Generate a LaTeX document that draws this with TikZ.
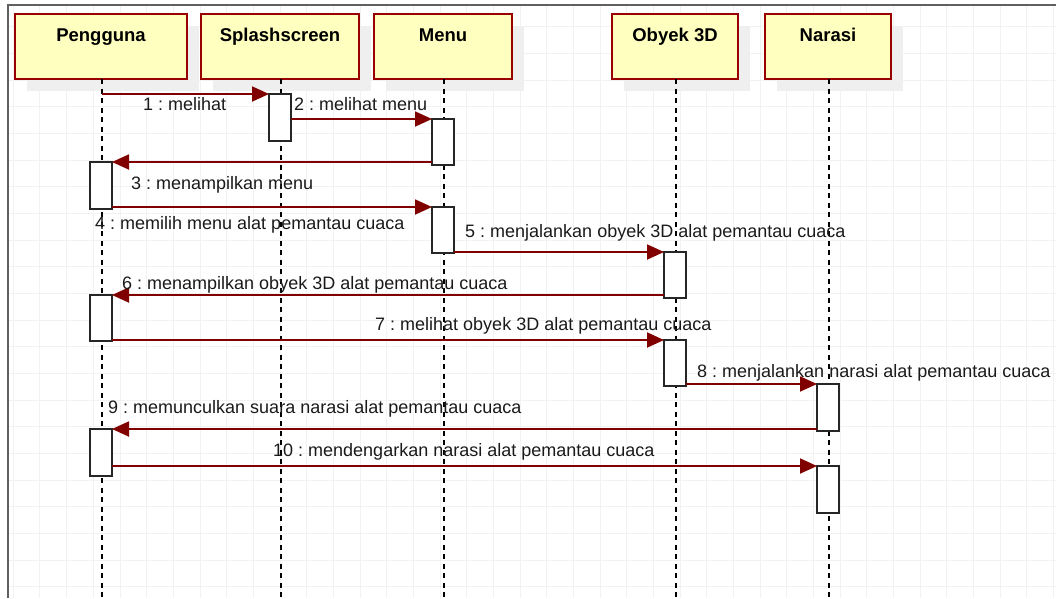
\documentclass[tikz,border=0pt]{standalone}
\usepackage{fontspec}
\setmainfont{Liberation Sans}
\usetikzlibrary{arrows.meta,shadows}
\frenchspacing

\definecolor{gridgray}{HTML}{F2F2F2}
\definecolor{framegray}{HTML}{606060}
\definecolor{headfill}{HTML}{FFFFC0}
\definecolor{headdraw}{HTML}{990000}
\definecolor{shadowgray}{HTML}{EFEFEF}
\definecolor{msgred}{HTML}{800000}
\definecolor{labeltext}{HTML}{1A1A1A}

\tikzset{
  headbox/.style={draw=headdraw, line width=1.4pt, fill=headfill, minimum height=65pt,
    inner sep=0pt, outer sep=0pt,
    drop shadow={shadow xshift=12pt, shadow yshift=-12pt, fill=shadowgray, opacity=1}},
  headtext/.style={font=\fontsize{18.5}{21}\selectfont\bfseries, text=black, anchor=base, inner sep=0pt},
  lifeline/.style={draw=black, line width=1.7pt, dash pattern=on 5pt off 4.5pt},
  actbox/.style={draw=black!85, line width=1.5pt, fill=white, minimum width=22pt, inner sep=0pt, outer sep=0pt},
  msg/.style={draw=msgred, line width=1.8pt, -{Triangle[length=17pt,width=15pt]}},
  msglabel/.style={font=\fontsize{18}{21}\selectfont, text=labeltext, anchor=base west, inner sep=0pt},
}

\begin{document}
\begin{tikzpicture}[x=1pt,y=-1pt]
\useasboundingbox (0,0) rectangle (1056,598);

% background grid inside the frame
\begin{scope}
  \clip (8,5) rectangle (1056,598);
  \foreach \k in {0,...,39} {
    \draw[gridgray, line width=1pt] ({13.33+26.667*\k},5) -- ({13.33+26.667*\k},598);
  }
  \foreach \k in {1,...,22} {
    \draw[gridgray, line width=1pt] (8,{26.667*\k}) -- (1056,{26.667*\k});
  }
\end{scope}
\draw[framegray, line width=1.5pt] (8,598) -- (8,5) -- (1056,5);

% participants
\node[headbox, minimum width=172pt] (P) at (101,46.5) {};
\node[headbox, minimum width=158pt] (S) at (280,46.5) {};
\node[headbox, minimum width=138pt] (M) at (443,46.5) {};
\node[headbox, minimum width=126pt] (O) at (675,46.5) {};
\node[headbox, minimum width=126pt] (N) at (828,46.5) {};

\node[headtext] (Pt) at (101,41.5) {Pengguna};
\node[headtext] (St) at (280,41.5) {Splashscreen};
\node[headtext] (Mt) at (443,41.5) {Menu};
\node[headtext] (Ot) at (675,41.5) {Obyek 3D};
\node[headtext] (Nt) at (828,41.5) {Narasi};

% lifelines
\coordinate (Pend) at (102,598);
\coordinate (Send) at (281,598);
\coordinate (Mend) at (444,598);
\coordinate (Oend) at (676,598);
\coordinate (Nend) at (829,598);
\draw[lifeline] (Pend |- P.south) -- (Pend);
\draw[lifeline] (Send |- S.south) -- (Send);
\draw[lifeline] (Mend |- M.south) -- (Mend);
\draw[lifeline] (Oend |- O.south) -- (Oend);
\draw[lifeline] (Nend |- N.south) -- (Nend);

% activation bars
\node[actbox, minimum height=47pt] (s1) at (280,117.5) {};
\node[actbox, minimum height=46pt] (m1) at (443,142) {};
\node[actbox, minimum height=47pt] (u1) at (101,185.5) {};
\node[actbox, minimum height=46pt] (m2) at (443,230) {};
\node[actbox, minimum height=46pt] (o1) at (675,275) {};
\node[actbox, minimum height=46pt] (u2) at (101,318) {};
\node[actbox, minimum height=46pt] (o2) at (675,363) {};
\node[actbox, minimum height=47pt] (n1) at (828,407.5) {};
\node[actbox, minimum height=47pt] (u3) at (101,452.5) {};
\node[actbox, minimum height=47pt] (n2) at (828,489.5) {};

% messages
\coordinate (start1) at (102,94);
\draw[msg] (start1) -- (s1.north west);
\draw[msg] (s1.east |- m1.north) -- (m1.north west);
\draw[msg] (m1.west |- u1.north) -- (u1.north east);
\draw[msg] (u1.east |- m2.north) -- (m2.north west);
\draw[msg] (m2.east |- o1.north) -- (o1.north west);
\draw[msg] (o1.west |- u2.north) -- (u2.north east);
\draw[msg] (u2.east |- o2.north) -- (o2.north west);
\draw[msg] (o2.east |- n1.north) -- (n1.north west);
\draw[msg] (n1.west |- u3.north) -- (u3.north east);
\draw[msg] (u3.east |- n2.north) -- (n2.north west);

% message labels
\node[msglabel] (l1) at (143,110) {1 : melihat};
\node[msglabel] (l2) at (294,110) {2 : melihat menu};
\node[msglabel] (l3) at (131,189) {3 : menampilkan menu};
\node[msglabel] (l4) at (95,229) {4 : memilih menu alat pemantau cuaca};
\node[msglabel] (l5) at (465,237.5) {5 : menjalankan obyek 3D alat pemantau cuaca};
\node[msglabel] (l6) at (122,289) {6 : menampilkan obyek 3D alat pemantau cuaca};
\node[msglabel] (l7) at (375,330.5) {7 : melihat obyek 3D alat pemantau cuaca};
\node[msglabel] (l8) at (697,377.5) {8 : menjalankan narasi alat pemantau cuaca};
\node[msglabel] (l9) at (108,413.5) {9 : memunculkan suara narasi alat pemantau cuaca};
\node[msglabel] (l10) at (273,456.5) {10 : mendengarkan narasi alat pemantau cuaca};
\end{tikzpicture}
\end{document}
